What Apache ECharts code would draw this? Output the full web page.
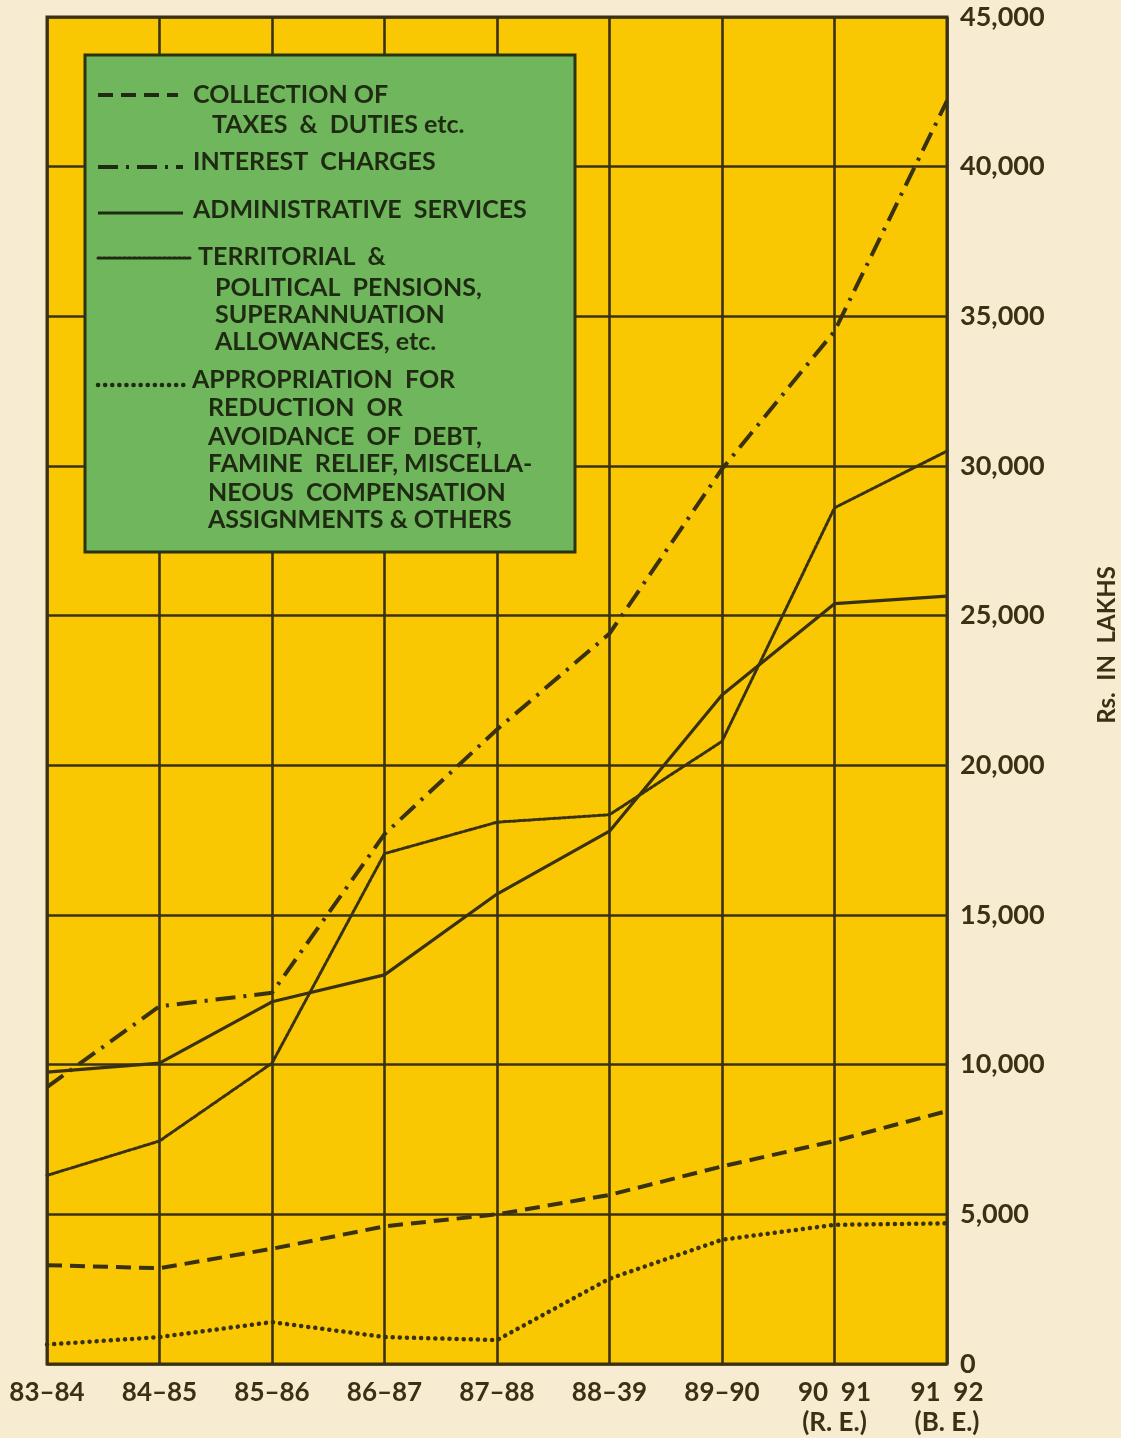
<!DOCTYPE html>
<html>
<head>
<meta charset="utf-8">
<title>Expenditure chart</title>
<script src="https://cdn.jsdelivr.net/npm/echarts@6/dist/echarts.min.js"></script>
<style>
    html, body { margin: 0; padding: 0; background: #f7ebd2; }
    #chart { width: 1121px; height: 1438px; }
</style>
</head>
<body>
<div id="chart"></div>
<script>
// 年份 (x轴)
var years = ['83–84', '84–85', '85–86', '86–87', '87–88', '88–39', '89–90', '90  91\n(R. E.)', '91  92\n(B. E.)'];

// 各项数据 (Rs. in lakhs)
var collection = [3300, 3200, 3850, 4600, 5000, 5650, 6600, 7450, 8450];
var interest = [9250, 11950, 12400, 17700, 21200, 24400, 29900, 34500, 42200];
var admin = [9750, 10050, 12100, 13000, 15700, 17800, 22350, 25400, 25650];
var territorial = [6300, 7450, 10050, 17050, 18100, 18350, 20800, 28600, 30500];
var appropriation = [650, 900, 1400, 900, 800, 2850, 4150, 4650, 4700];

var yTicks = [0, 5000, 10000, 15000, 20000, 25000, 30000, 35000, 40000, 45000];

var ink = '#3a3112';
var legendInk = '#1f2a12';
var font = 'Lato';

// 线型, 图例和折线共用
var styles = {
    collection: { width: 4, type: [15, 8], cap: 'butt' },
    interest: { width: 4, type: [20, 8, 3, 8], cap: 'butt' },
    admin: { width: 3.2, type: 'solid', cap: 'butt' },
    territorial: { width: 3, type: [3, 2], cap: 'round' },
    appropriation: { width: 4.5, type: [0.1, 7], cap: 'round' }
};

function makeSeries(name, data, st) {
    return {
        name: name,
        type: 'line',
        data: data,
        symbol: 'none',
        silent: true,
        lineStyle: { color: ink, width: st.width, type: st.type, cap: st.cap }
    };
}

function legendLine(y, x2, st) {
    return {
        type: 'line',
        z: 100,
        shape: { x1: 98, y1: y, x2: x2, y2: y },
        style: {
            stroke: legendInk,
            lineWidth: st.width,
            lineDash: st.type === 'solid' ? null : st.type,
            lineCap: st.cap
        }
    };
}

function legendText(x, y, txt) {
    return {
        type: 'text',
        z: 101,
        x: x,
        y: y,
        style: {
            text: txt,
            fill: legendInk,
            font: 'bold 25px ' + font,
            textVerticalAlign: 'middle'
        }
    };
}

var oChart = echarts.init(document.getElementById('chart'));

var chartopt = {
    backgroundColor: '#f7ebd2',
    animation: false,
    grid: {
        show: true,
        left: 47,
        right: 174,
        top: 17,
        bottom: 71,
        backgroundColor: '#f9c802',
        borderColor: ink,
        borderWidth: 3
    },
    xAxis: {
        type: 'category',
        data: years,
        boundaryGap: false,
        axisLine: { show: false },
        axisTick: { show: false },
        axisLabel: {
            color: ink,
            fontFamily: font,
            fontWeight: 'bold',
            fontSize: 26,
            margin: 14,
            lineHeight: 30
        },
        splitLine: { show: true, lineStyle: { color: ink, width: 2.6 } }
    },
    yAxis: {
        type: 'value',
        position: 'right',
        min: 0,
        max: 45000,
        interval: 5000,
        axisLine: { show: false },
        axisTick: { show: false },
        axisLabel: {
            color: ink,
            fontFamily: font,
            fontWeight: 'bold',
            fontSize: 27,
            margin: 13,
            padding: [0, 0, 12, 0],
            formatter: function (v) {
                return yTicks.indexOf(v) >= 0 ? v.toLocaleString('en-US') : '';
            }
        },
        splitLine: { show: true, lineStyle: { color: ink, width: 2.6 } }
    },
    series: [
        makeSeries('COLLECTION OF TAXES & DUTIES etc.', collection, styles.collection),
        makeSeries('INTEREST CHARGES', interest, styles.interest),
        makeSeries('ADMINISTRATIVE SERVICES', admin, styles.admin),
        makeSeries('TERRITORIAL & POLITICAL PENSIONS', territorial, styles.territorial),
        makeSeries('APPROPRIATION FOR REDUCTION OR AVOIDANCE OF DEBT', appropriation, styles.appropriation)
    ],
    graphic: [
        {
            type: 'rect',
            z: 99,
            shape: { x: 85, y: 55, width: 490, height: 497 },
            style: { fill: '#6fb65c', stroke: '#2c3315', lineWidth: 3 }
        },
        legendLine(95, 178, styles.collection),
        legendText(193, 95, 'COLLECTION OF'),
        legendText(212, 125, 'TAXES  &  DUTIES etc.'),
        legendLine(167, 183, styles.interest),
        legendText(193, 162, 'INTEREST  CHARGES'),
        legendLine(213, 183, styles.admin),
        legendText(193, 210, 'ADMINISTRATIVE  SERVICES'),
        legendLine(258, 190, styles.territorial),
        legendText(198, 257, 'TERRITORIAL  &'),
        legendText(215, 288, 'POLITICAL  PENSIONS,'),
        legendText(215, 315, 'SUPERANNUATION'),
        legendText(215, 342, 'ALLOWANCES, etc.'),
        legendLine(385, 186, styles.appropriation),
        legendText(192, 380, 'APPROPRIATION  FOR'),
        legendText(208, 408, 'REDUCTION  OR'),
        legendText(208, 437, 'AVOIDANCE  OF  DEBT,'),
        legendText(208, 464, 'FAMINE  RELIEF, MISCELLA-'),
        legendText(208, 493, 'NEOUS  COMPENSATION'),
        legendText(208, 520, 'ASSIGNMENTS & OTHERS'),
        {
            type: 'text',
            x: 1107,
            y: 645,
            rotation: Math.PI / 2,
            style: {
                text: 'Rs.  IN  LAKHS',
                fill: ink,
                font: 'bold 24px ' + font,
                textAlign: 'center',
                textVerticalAlign: 'middle'
            }
        }
    ]
};

oChart.setOption(chartopt);
</script>
</body>
</html>
